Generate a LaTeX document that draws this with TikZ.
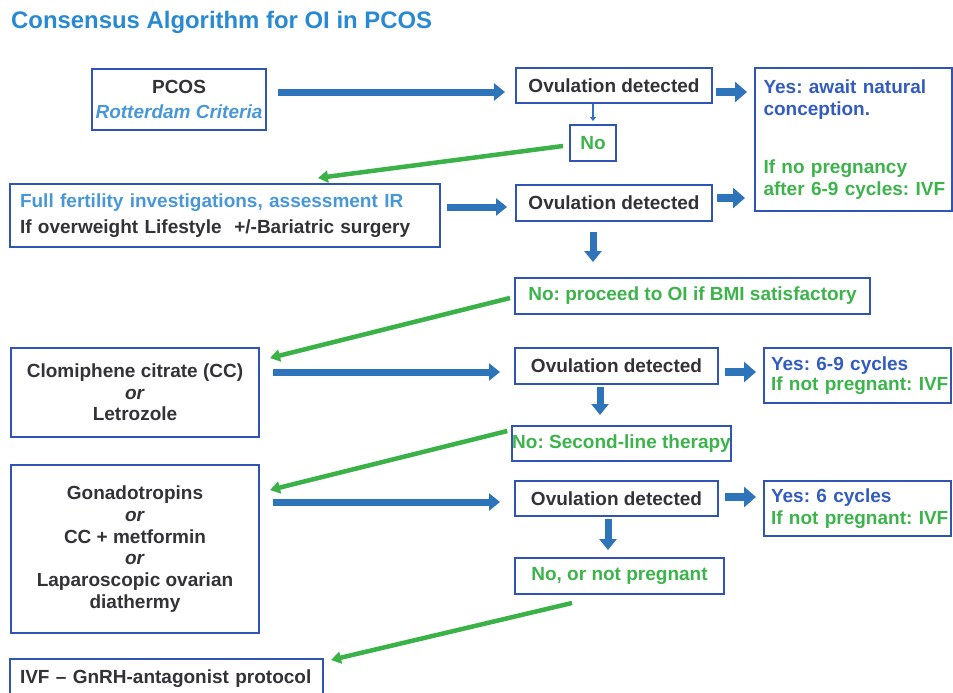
\documentclass[tikz,border=0pt]{standalone}
\usepackage{fontspec}
\setmainfont{Liberation Sans}
\usetikzlibrary{arrows.meta,calc}
\AtBeginDocument{\frenchspacing}
\definecolor{boxblue}{RGB}{47,84,182}
\definecolor{arrowblue}{RGB}{46,116,186}
\definecolor{arrowgreen}{RGB}{58,178,72}
\definecolor{txtgreen}{RGB}{60,180,75}
\definecolor{txtdark}{RGB}{50,50,55}
\definecolor{titleblue}{RGB}{40,138,210}
\definecolor{ltblue}{RGB}{72,152,216}
\definecolor{yesblue}{RGB}{50,92,192}
\begin{document}
\begin{tikzpicture}[x=1pt,y=-1pt,
  box/.style={draw=boxblue, line width=2pt, fill=white, inner sep=0pt,
    font=\fontsize{19}{21.7}\selectfont\bfseries, text=txtdark, align=center},
  gtext/.style={text=txtgreen},
  barrow/.style={draw=arrowblue, line width=7pt, -{Triangle[length=11pt,width=17pt]}},
  sbarrow/.style={draw=arrowblue, line width=8pt, -{Triangle[length=12pt,width=20pt]}},
  tinyarrow/.style={draw=arrowblue, line width=1.6pt, -{Triangle[length=4pt,width=6pt]}},
  garrow/.style={draw=arrowgreen, line width=4.5pt, -{Triangle[length=10pt,width=12pt]}}]
\useasboundingbox (0,0) rectangle (953,693);
\fill[white] (0,0) rectangle (953,693);

\node[anchor=base west, text=titleblue, font=\fontsize{23.9}{27}\selectfont\bfseries, inner sep=0pt] (title) at (11,28.5) {Consensus Algorithm for OI in PCOS};

% left column
\node[box, minimum width=174pt, minimum height=61pt] (pcos) at (179,99.5) {PCOS\\[4pt]\textcolor{ltblue}{\itshape Rotterdam Criteria}};
\node[box, text width=410pt, inner xsep=10pt, align=left, minimum height=63pt] (ffi) at (225,215.5) {\mbox{\textcolor{ltblue}{Full fertility investigations, assessment IR}}\\[5pt]\mbox{If overweight Lifestyle\ \ +/-Bariatric surgery}};
\node[box, minimum width=248pt, minimum height=89pt] (cc) at (135,392.5) {Clomiphene citrate (CC)\\\textit{or}\\Letrozole};
\node[box, minimum width=248pt, minimum height=168pt, font=\fontsize{19}{21.8}\selectfont\bfseries] (gon) at (135,549) {Gonadotropins\\\textit{or}\\CC + metformin\\\textit{or}\\Laparoscopic ovarian\\diathermy};
\node[box, text width=293pt, inner xsep=10pt, align=left, minimum height=40pt, anchor=north] (ivf) at (166.5,658) {\mbox{IVF -- GnRH-antagonist protocol}};

% middle column
\node[box, minimum width=196pt, minimum height=35pt] (ov1) at (614,85.5) {Ovulation detected};
\node[box, gtext, minimum width=46pt, minimum height=36pt] (no1) at (593,143) {No};
\node[box, minimum width=196pt, minimum height=36pt] (ov2) at (614,203) {Ovulation detected};
\node[box, gtext, minimum width=355pt, minimum height=36pt] (noproc) at (692.5,296) {No: proceed to OI if BMI satisfactory};
\node[box, minimum width=203pt, minimum height=36pt] (ov3) at (616.5,366) {Ovulation detected};
\node[box, gtext, minimum width=213pt, minimum height=35pt] (nosec) at (621.5,443.5) {No: Second-line therapy};
\node[box, minimum width=203pt, minimum height=35pt] (ov4) at (616.5,498.5) {Ovulation detected};
\node[box, gtext, minimum width=209pt, minimum height=36pt] (nonp) at (619.5,576) {No, or not pregnant};

% right column
\node[box, text width=180pt, inner xsep=8.5pt, align=left, minimum height=143pt, text=yesblue] (yes1) at (853.5,139.5) {\mbox{Yes: await natural}\\\mbox{conception.}\\[37pt]\mbox{\textcolor{txtgreen}{If no pregnancy}}\\\mbox{\textcolor{txtgreen}{after 6-9 cycles: IVF}}};
\node[box, text width=173pt, inner xsep=7pt, align=left, minimum height=55pt, text=yesblue] (yes3) at (857.5,375.5) {\mbox{Yes: 6-9 cycles}\\[-2pt]\mbox{\textcolor{txtgreen}{If not pregnant: IVF}}};
\node[box, text width=173pt, inner xsep=7pt, align=left, minimum height=55pt, text=yesblue] (yes4) at (857.5,508.5) {\mbox{Yes: 6 cycles}\\\mbox{\textcolor{txtgreen}{If not pregnant: IVF}}};

% blue arrows
\draw[barrow] ($(pcos.east)+(11,-7.5)$) -- ($(ov1.west)+(-10,6.5)$);
\draw[sbarrow] ($(ov1.east)+(3,6.5)$) -- ($(yes1.west)+(-7,-47.5)$);
\draw[tinyarrow] (no1.north |- ov1.south) -- ($(no1.north)+(0,-3)$);
\draw[barrow] ($(ffi.east)+(6,-8.5)$) -- ($(ov2.west)+(-8,4)$);
\draw[sbarrow] ($(ov2.east)+(4,-5)$) -- ($(yes1.west)+(-9,58.5)$);
\draw[barrow] ($(ov2.south)+(-21,10)$) -- ($(noproc.north)+(-99.5,-15)$);
\draw[barrow] ($(cc.north east)+(13,25)$) -- ($(ov3.west)+(-14,6)$);
\draw[sbarrow] ($(ov3.east)+(6,6)$) -- ($(yes3.west)+(-7,-3.5)$);
\draw[barrow] ($(ov3.south)+(-16.5,2)$) -- ($(nosec.north)+(-21.5,-10)$);
\draw[barrow] ($(gon.north east)+(13,38)$) -- ($(ov4.west)+(-14,3.5)$);
\draw[sbarrow] ($(ov4.east)+(6,-1.5)$) -- ($(yes4.west)+(-7,-11.5)$);
\draw[barrow] ($(ov4.south)+(-8.5,2)$) -- ($(nonp.north)+(-11.5,-7)$);

% green arrows
\draw[garrow] ($(no1.west)+(-6,3)$) -- ($(ffi.north)+(93,-5)$);
\draw[garrow] ($(noproc.west)+(-4,2)$) -- ($(cc.north east)+(10,11)$);
\draw[garrow] ($(nosec.west)+(-4,-12.5)$) -- ($(gon.north east)+(10,26)$);
\draw[garrow] ($(nonp.south)+(-47.5,8)$) -- ($(ivf.north east)+(7,2)$);
\end{tikzpicture}
\end{document}
